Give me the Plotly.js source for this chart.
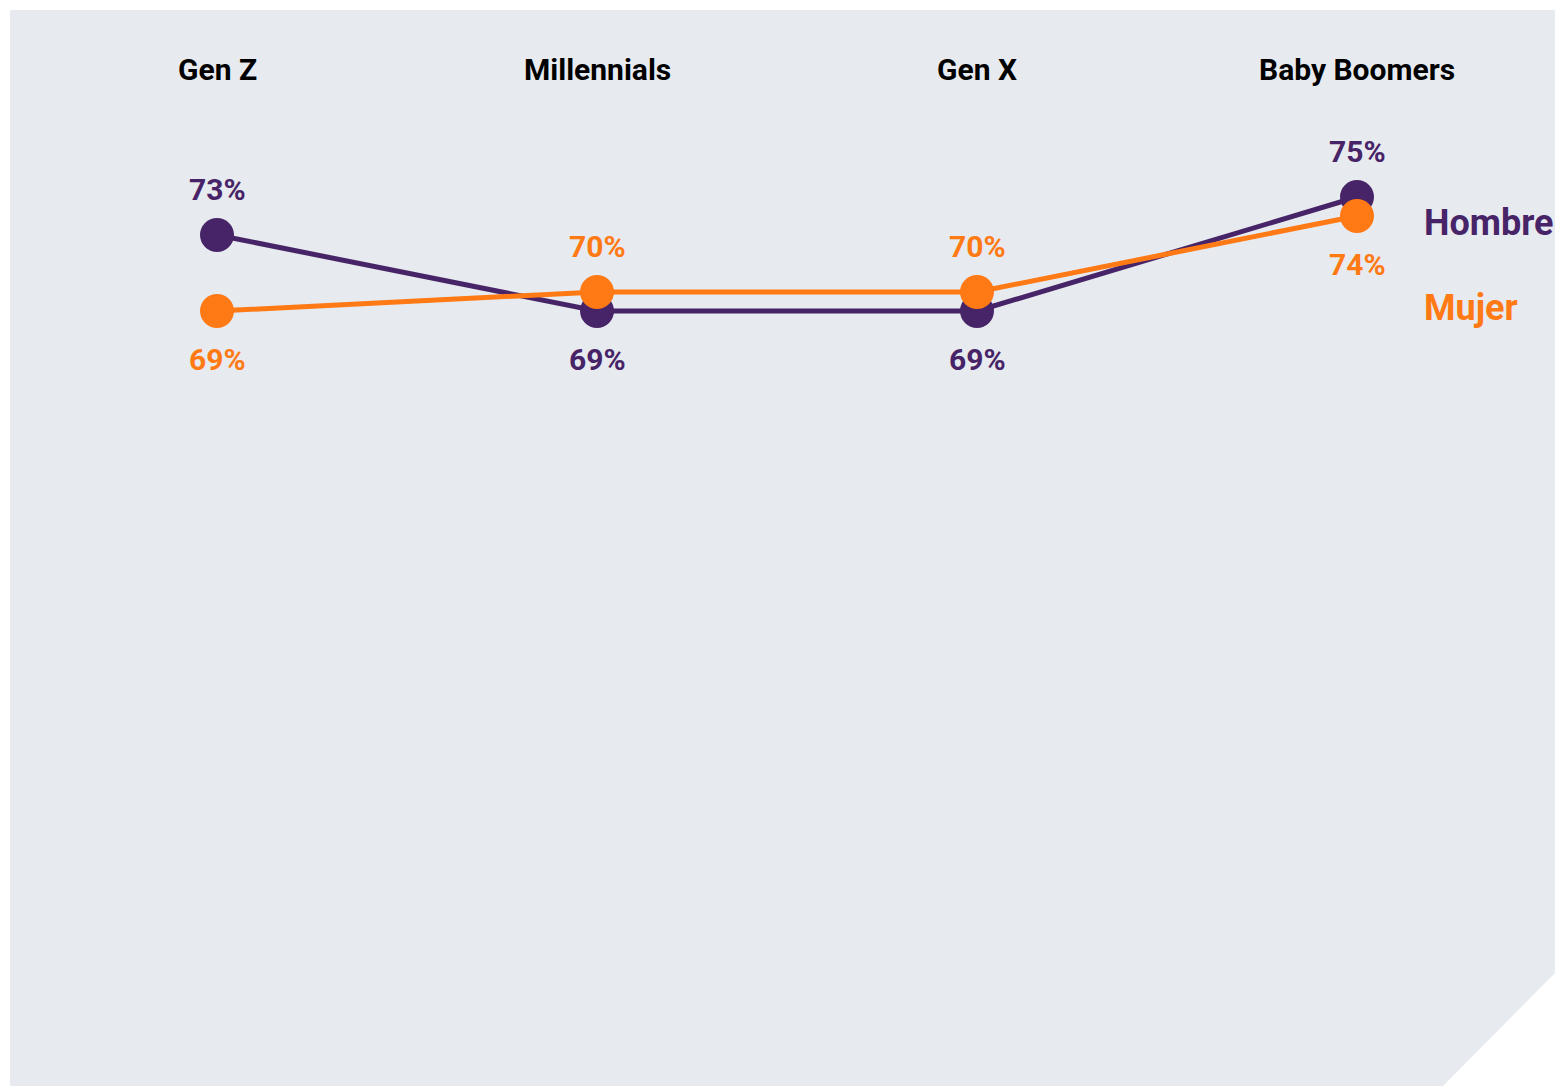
<!DOCTYPE html>
<html>
<head>
<meta charset="utf-8">
<script src="https://cdn.plot.ly/plotly-3.0.1.min.js"></script>
<style>html,body{margin:0;padding:0;background:#fff;}#chart{width:1555px;height:1086px;}</style>
</head>
<body>
<div id="chart"></div>
<script>
const categories = ["Gen Z", "Millennials", "Gen X", "Baby Boomers"];
const hombre = [73, 69, 69, 75];
const mujer = [69, 70, 70, 74];
const seriesNames = ["Hombre", "Mujer"];

const PURPLE = "#472467";
const ORANGE = "#ff7914";
const FONT = "Roboto, 'DejaVu Sans', sans-serif";

const xs = categories.map((c, i) => i);

function lineTrace(vals, color, name) {
  return {
    x: xs, y: vals, name: name, type: "scatter", mode: "lines+markers",
    line: {color: color, width: 5},
    marker: {color: color, size: 34},
    hoverinfo: "skip", showlegend: false, cliponaxis: false
  };
}

const annotations = [];
categories.forEach((c, i) => {
  annotations.push({
    x: i, xref: "x", y: 1 - 70 / 1086, yref: "paper", yanchor: "middle",
    text: "<b>" + c + "</b>", showarrow: false,
    font: {family: FONT, size: 30, color: "#000"}
  });
  const hAbove = hombre[i] >= mujer[i];
  annotations.push({
    x: i, y: hombre[i], xref: "x", yref: "y", yanchor: "middle", showarrow: false,
    text: "<b>" + hombre[i] + "%</b>", yshift: hAbove ? 46 : -48,
    font: {family: FONT, size: 30, color: PURPLE}
  });
  annotations.push({
    x: i, y: mujer[i], xref: "x", yref: "y", yanchor: "middle", showarrow: false,
    text: "<b>" + mujer[i] + "%</b>", yshift: hAbove ? -48 : 46,
    font: {family: FONT, size: 30, color: ORANGE}
  });
});
annotations.push({
  x: 1422 / 1555, xref: "paper", y: 1 - 223 / 1086, yref: "paper", yanchor: "middle",
  xanchor: "left", showarrow: false, text: "<b>" + seriesNames[0] + "</b>",
  font: {family: FONT, size: 36, color: PURPLE}
});
annotations.push({
  x: 1422 / 1555, xref: "paper", y: 1 - 308 / 1086, yref: "paper", yanchor: "middle",
  xanchor: "left", showarrow: false, text: "<b>" + seriesNames[1] + "</b>",
  font: {family: FONT, size: 36, color: ORANGE}
});

const W = 1555, H = 1086;
const bgPath = `M ${10/W} ${1-10/H} L 1 ${1-10/H} L 1 ${1-973/H} L ${1443/W} 0 L ${10/W} 0 Z`;

const layout = {
  width: W, height: H,
  margin: {l: 0, r: 0, t: 0, b: 0, pad: 0},
  paper_bgcolor: "#ffffff", plot_bgcolor: "rgba(0,0,0,0)",
  xaxis: {range: [-217/380, (1555-217)/380], visible: false, fixedrange: true},
  yaxis: {range: [69 - (1086-311)/19, 69 + 311/19], visible: false, fixedrange: true},
  shapes: [{
    type: "path", xref: "paper", yref: "paper", path: bgPath,
    fillcolor: "#e7eaef", line: {width: 0}, layer: "below"
  }],
  annotations: annotations,
  showlegend: false
};

Plotly.newPlot("chart", [lineTrace(hombre, PURPLE, seriesNames[0]), lineTrace(mujer, ORANGE, seriesNames[1])], layout, {staticPlot: true, displayModeBar: false});
</script>
</body>
</html>
